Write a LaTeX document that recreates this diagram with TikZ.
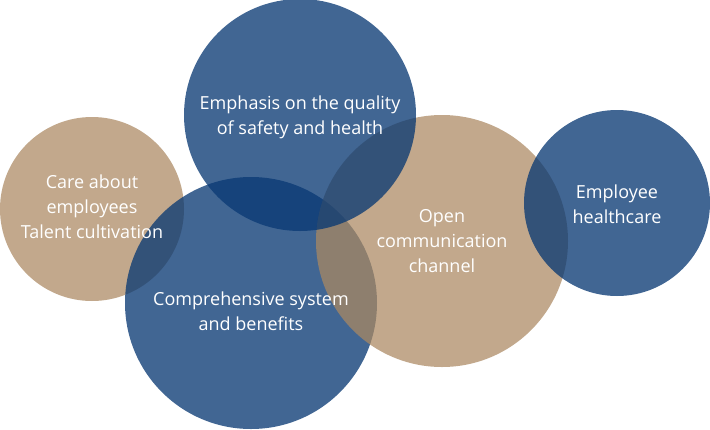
\documentclass[tikz,border=0pt]{standalone}
\usepackage{fontspec}
\setmainfont{Open Sans}

\definecolor{navy}{HTML}{083873}
\definecolor{sand}{HTML}{AB8861}

\tikzset{
    disc/.style={circle, inner sep=0pt, fill opacity=#1},
    bluedisc/.style={disc=0.77, fill=navy},
    tandisc/.style={disc=0.73, fill=sand},
    disctext/.style={text=white, align=center, font=\fontsize{18}{25}\selectfont}
}

\begin{document}
\begin{tikzpicture}[x=1pt, y=-1pt]
        \useasboundingbox (0,0) rectangle (710,429);

        % the discs, back to front
        \foreach \name/\x/\y/\d/\kind in {care/92/209/184/tandisc,
                system/251/303/252/bluedisc, open/442/241/252/tandisc,
                safety/300/115/232/bluedisc, health/617/203/186/bluedisc} {
            \node[\kind, minimum size=\d pt] (\name) at (\x,\y) {};
        }

        % texts on top
        \node[disctext] (caretext) at (92,207) {Care about\\employees\\Talent cultivation};
        \node[disctext] (safetytext) at (300,117) {Emphasis on the quality\\of safety and health};
        \node[disctext] (systemtext) at (251,311) {Comprehensive system\\and benefits};
        \node[disctext] (opentext) at (442,241) {Open\\communication\\channel};
        \node[disctext] (healthtext) at (617,204) {Employee\\healthcare};
    \end{tikzpicture}
\end{document}
